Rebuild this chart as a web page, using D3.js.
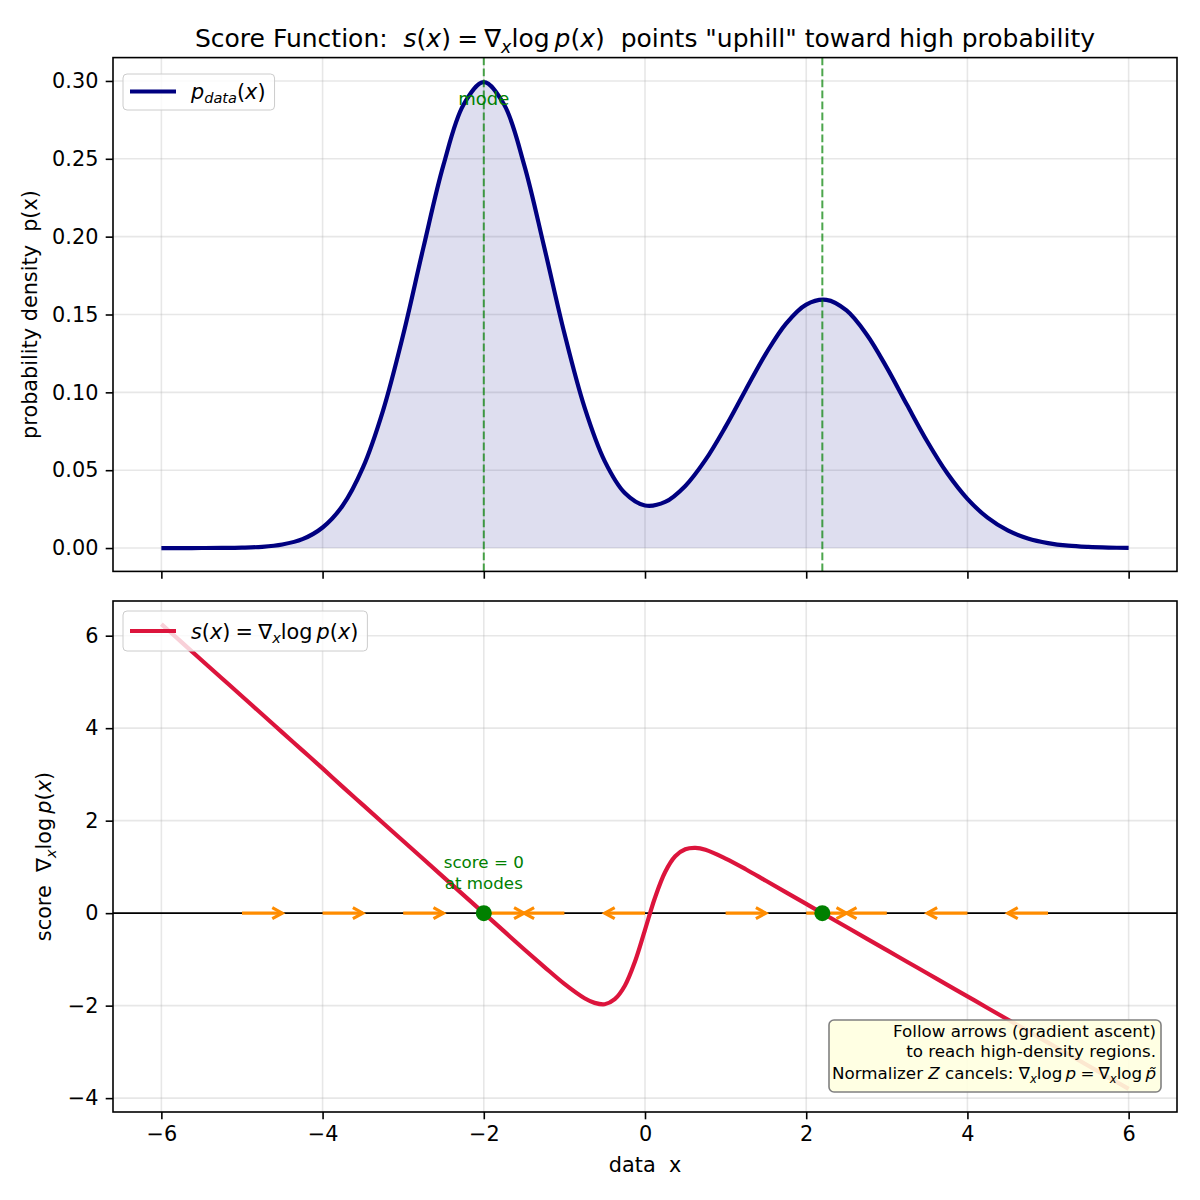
<!DOCTYPE html>
<html>
<head>
<meta charset="utf-8">
<script src="https://cdn.jsdelivr.net/npm/d3@7"></script>
<style>
  body { margin: 0; background: #fff; }
  text { font-family: "DejaVu Sans", sans-serif; white-space: pre; }
</style>
</head>
<body>
<div id="container"></div>
<script>

// density p(x)
const densityX = [-6, -5.75, -5.5, -5.25, -5, -4.75, -4.5, -4.25, -4, -3.75, -3.5, -3.25,
    -3, -2.75, -2.5, -2.25, -2, -1.75, -1.5, -1.25, -1, -0.75, -0.5, -0.25,
    0, 0.25, 0.5, 0.75, 1, 1.25, 1.5, 1.75, 2, 2.25, 2.5, 2.75,
    3, 3.25, 3.5, 3.75, 4, 4.25, 4.5, 4.75, 5, 5.25, 5.5, 5.75, 6];
const densityY = [0.000001, 0.000005, 0.00002, 0.00008, 0.00027, 0.0008, 0.0023, 0.0057, 0.0132, 0.0273, 0.0516, 0.0883,
    0.137, 0.1928, 0.2461, 0.2849, 0.2992, 0.285, 0.2463, 0.1932, 0.1379, 0.0903, 0.0558, 0.0353,
    0.0273, 0.0296, 0.0399, 0.0566, 0.078, 0.1017, 0.1249, 0.1442, 0.1564, 0.1594, 0.1526, 0.1372,
    0.1159, 0.092, 0.0686, 0.048, 0.0316, 0.0195, 0.0113, 0.0062, 0.0032, 0.0015, 0.0007, 0.0003, 0.0001];

// score s(x)
const scoreX = [-6, -5.75, -5.5, -5.25, -5, -4.75, -4.5, -4.25, -4, -3.75, -3.5, -3.25,
    -3, -2.75, -2.5, -2.25, -2, -1.75, -1.5, -1.25, -1, -0.75, -0.625, -0.5, -0.375, -0.25, -0.125,
    0, 0.125, 0.25, 0.375, 0.5, 0.625, 0.75, 1, 1.25, 1.5, 1.75, 2, 2.25, 2.5, 2.75,
    3, 3.25, 3.5, 3.75, 4, 4.25, 4.5, 4.75, 5, 5.25, 5.5, 5.75, 6];
const scoreY = [6.25, 5.86, 5.47, 5.08, 4.69, 4.3, 3.91, 3.52, 3.13, 2.73, 2.34, 1.95,
    1.56, 1.17, 0.78, 0.39, 0, -0.39, -0.78, -1.16, -1.53, -1.84, -1.94, -1.97, -1.86, -1.57, -1.05,
    -0.36, 0.34, 0.89, 1.23, 1.38, 1.41, 1.37, 1.18, 0.95, 0.7, 0.45, 0.2, -0.05, -0.3, -0.55,
    -0.8, -1.05, -1.3, -1.55, -1.8, -2.05, -2.3, -2.55, -2.8, -3.05, -3.3, -3.55, -3.8];

const modes = [-2.0, 2.2];
const arrowStarts = [-5, -4, -3, -2, -1, 0, 1, 2, 3, 4, 5];
const arrowDirs = [1, 1, 1, 1, -1, -1, 1, 1, -1, -1, -1];
const arrowLength = 0.5;

const xTicks = [-6, -4, -2, 0, 2, 4, 6];
const topTicks = [0, 0.05, 0.10, 0.15, 0.20, 0.25, 0.30];
const bottomTicks = [-4, -2, 0, 2, 4, 6];

const W = 1200, H = 1200;
const left = 113, right = 1177;
const fs = 20.8;
const EQ = "\u2005=\u2005";

const svg = d3.select("#container").append("svg")
    .attr("width", W).attr("height", H);

const x = d3.scaleLinear().domain([-6.6, 6.6]).range([left, right]);
const yTop = d3.scaleLinear().domain([-0.015, 0.315]).range([571.4, 57.6]);
const yBot = d3.scaleLinear().domain([-4.3, 6.75]).range([1112, 601]);
const smooth = d3.curveCatmullRom.alpha(0.5);

// writes mathtext-like pieces: [text, style] with style n / i / si / sn
function mathText(sel, parts, size) {
    let shift = 0;
    parts.forEach(([t, st]) => {
        const sub = st[0] === "s";
        const target = sub ? size * 0.22 : 0;
        sel.append("tspan")
            .attr("dy", target - shift)
            .attr("font-size", sub ? size * 0.7 : size)
            .attr("font-style", st.endsWith("i") ? "italic" : "normal")
            .text(t);
        shift = target;
    });
    return sel;
}

function panel(yScale, yTicks, yFmt, showXLabels) {
    const g = svg.append("g");
    const [y0, y1] = yScale.range();
    // grid
    g.selectAll(".vg").data(xTicks).join("line")
        .attr("x1", d => x(d)).attr("x2", d => x(d))
        .attr("y1", y1).attr("y2", y0)
        .attr("stroke", "#b0b0b0").attr("stroke-opacity", 0.3).attr("stroke-width", 1.6);
    g.selectAll(".hg").data(yTicks).join("line")
        .attr("x1", left).attr("x2", right)
        .attr("y1", d => yScale(d)).attr("y2", d => yScale(d))
        .attr("stroke", "#b0b0b0").attr("stroke-opacity", 0.3).attr("stroke-width", 1.6);

    const xAxis = svg.append("g").attr("transform", `translate(0,${y0})`)
        .call(d3.axisBottom(x).tickValues(xTicks).tickSize(7.3).tickPadding(7.3)
            .tickFormat(showXLabels ? d3.format("") : ""));
    const yAxis = svg.append("g").attr("transform", `translate(${left},0)`)
        .call(d3.axisLeft(yScale).tickValues(yTicks).tickSize(7.3).tickPadding(7.3).tickFormat(yFmt));
    [xAxis, yAxis].forEach(a => {
        a.select(".domain").remove();
        a.selectAll("line").attr("stroke", "#000").attr("stroke-width", 1.6);
        a.selectAll("text").attr("font-size", fs).attr("fill", "#000")
            .style("font-family", "DejaVu Sans");
    });
    return g;
}

function frame(yScale) {
    const [y0, y1] = yScale.range();
    svg.append("rect").attr("x", left).attr("y", y1)
        .attr("width", right - left).attr("height", y0 - y1)
        .attr("fill", "none").attr("stroke", "#000").attr("stroke-width", 1.6);
}

// ---------- top panel ----------
panel(yTop, topTicks, d3.format(".2f"), false);

const densityPts = densityX.map((d, i) => [d, densityY[i]]);

svg.append("path").datum(densityPts)
    .attr("fill", "#000080").attr("fill-opacity", 0.13)
    .attr("d", d3.area().curve(smooth)
        .x(d => x(d[0])).y0(yTop(0)).y1(d => yTop(d[1])));

svg.append("path").datum(densityPts)
    .attr("fill", "none").attr("stroke", "#000080").attr("stroke-width", 4.2)
    .attr("d", d3.line().curve(smooth)
        .x(d => x(d[0])).y(d => yTop(d[1])));

svg.selectAll(".modeLine").data(modes).join("line")
    .attr("x1", d => x(d)).attr("x2", d => x(d))
    .attr("y1", yTop.range()[1]).attr("y2", yTop.range()[0])
    .attr("stroke", "green").attr("stroke-opacity", 0.7).attr("stroke-width", 2)
    .attr("stroke-dasharray", "7.7,3.3");

svg.append("text").attr("x", x(modes[0])).attr("y", yTop(0.288))
    .attr("text-anchor", "middle").attr("dominant-baseline", "middle")
    .attr("font-size", 18).attr("fill", "green").text("mode");

frame(yTop);

// legend top
{
    const g = svg.append("g");
    const box = g.append("rect").attr("x", 123).attr("y", 74).attr("height", 36)
        .attr("rx", 4).attr("fill", "#fff").attr("fill-opacity", 0.8)
        .attr("stroke", "#cccccc");
    g.append("line").attr("x1", 130).attr("x2", 176).attr("y1", 91.5).attr("y2", 91.5)
        .attr("stroke", "#000080").attr("stroke-width", 4.2);
    const t = g.append("text").attr("x", 191).attr("y", 98.5);
    mathText(t, [["p", "i"], ["data", "si"], ["(", "n"], ["x", "i"], [")", "n"]], fs);
    box.attr("width", 191 + t.node().getComputedTextLength() - 123 + 9);
}

// ---------- bottom panel ----------
panel(yBot, bottomTicks, d3.format(""), true);

svg.append("line").attr("x1", left).attr("x2", right)
    .attr("y1", yBot(0)).attr("y2", yBot(0))
    .attr("stroke", "#000").attr("stroke-width", 1.6);

svg.append("path").datum(scoreX.map((d, i) => [d, scoreY[i]]))
    .attr("fill", "none").attr("stroke", "crimson").attr("stroke-width", 4.2)
    .attr("d", d3.line().curve(smooth)
        .x(d => x(d[0])).y(d => yBot(d[1])));

// arrows along y = 0
const arrows = svg.append("g");
arrowStarts.forEach((a, i) => {
    const x0 = x(a), x1 = x(a + arrowDirs[i] * arrowLength), y0 = yBot(0);
    const dir = arrowDirs[i];
    arrows.append("line").attr("x1", x0).attr("x2", x1).attr("y1", y0).attr("y2", y0)
        .attr("stroke", "darkorange").attr("stroke-width", 3.1);
    arrows.append("path")
        .attr("d", `M${x1 - dir * 10},${y0 - 5.5}L${x1},${y0}L${x1 - dir * 10},${y0 + 5.5}`)
        .attr("fill", "none").attr("stroke", "darkorange").attr("stroke-width", 3.1)
        .attr("stroke-linejoin", "miter");
});

svg.selectAll(".modeDot").data(modes).join("circle")
    .attr("cx", d => x(d)).attr("cy", yBot(0)).attr("r", 8)
    .attr("fill", "green");

svg.append("text").attr("x", x(modes[0])).attr("y", yBot(0.5) - 22)
    .attr("text-anchor", "middle").attr("font-size", 16.7).attr("fill", "green")
    .text("score = 0");
svg.append("text").attr("x", x(modes[0])).attr("y", yBot(0.5) - 1)
    .attr("text-anchor", "middle").attr("font-size", 16.7).attr("fill", "green")
    .text("at modes");

// note box
{
    const g = svg.append("g");
    g.append("rect").attr("x", 829).attr("y", 1020).attr("width", 332).attr("height", 72)
        .attr("rx", 5).attr("fill", "#ffffe0").attr("fill-opacity", 0.9)
        .attr("stroke", "#808080").attr("stroke-width", 1.6);
    const fsn = 16.7, tx = 1156;
    g.append("text").attr("x", tx).attr("y", 1037).attr("text-anchor", "end")
        .attr("font-size", fsn).text("Follow arrows (gradient ascent)");
    g.append("text").attr("x", tx).attr("y", 1057).attr("text-anchor", "end")
        .attr("font-size", fsn).text("to reach high-density regions.");
    const t3 = g.append("text").attr("x", tx).attr("y", 1079).attr("text-anchor", "end");
    mathText(t3, [["Normalizer ", "n"], ["Z", "i"], [" cancels: \u2207", "n"], ["x", "si"],
        ["log\u2009", "n"], ["p", "i"], [EQ + "\u2207", "n"], ["x", "si"], ["log\u2009", "n"], ["p\u0303", "i"]], fsn);
}

frame(yBot);

// legend bottom
{
    const g = svg.append("g");
    const box = g.append("rect").attr("x", 123).attr("y", 611).attr("height", 40)
        .attr("rx", 4).attr("fill", "#fff").attr("fill-opacity", 0.8)
        .attr("stroke", "#cccccc");
    g.append("line").attr("x1", 130).attr("x2", 176).attr("y1", 631).attr("y2", 631)
        .attr("stroke", "crimson").attr("stroke-width", 4.2);
    const t = g.append("text").attr("x", 191).attr("y", 638.5);
    mathText(t, [["s", "i"], ["(", "n"], ["x", "i"], [")" + EQ + "\u2207", "n"], ["x", "si"],
        ["log\u2009", "n"], ["p", "i"], ["(", "n"], ["x", "i"], [")", "n"]], fs);
    box.attr("width", 191 + t.node().getComputedTextLength() - 123 + 9);
}

// ---------- labels ----------
{
    const t = svg.append("text").attr("x", 645).attr("y", 47)
        .attr("text-anchor", "middle").attr("font-size", 25);
    mathText(t, [["Score Function:  ", "n"], ["s", "i"], ["(", "n"], ["x", "i"], [")" + EQ + "\u2207", "n"],
        ["x", "si"], ["log\u2009", "n"], ["p", "i"], ["(", "n"], ["x", "i"],
        [")  points \"uphill\" toward high probability", "n"]], 25);
}

svg.append("text").attr("transform", `translate(37,${(57.6 + 571.4) / 2}) rotate(-90)`)
    .attr("text-anchor", "middle").attr("font-size", fs)
    .text("probability density  p(x)");

{
    const t = svg.append("text").attr("transform", `translate(51,${(601 + 1112) / 2}) rotate(-90)`)
        .attr("text-anchor", "middle").attr("font-size", fs);
    mathText(t, [["score  \u2207", "n"], ["x", "si"], ["log\u2009", "n"], ["p", "i"],
        ["(", "n"], ["x", "i"], [")", "n"]], fs);
}

svg.append("text").attr("x", 645).attr("y", 1172)
    .attr("text-anchor", "middle").attr("font-size", fs).text("data  x");

</script>
</body>
</html>
